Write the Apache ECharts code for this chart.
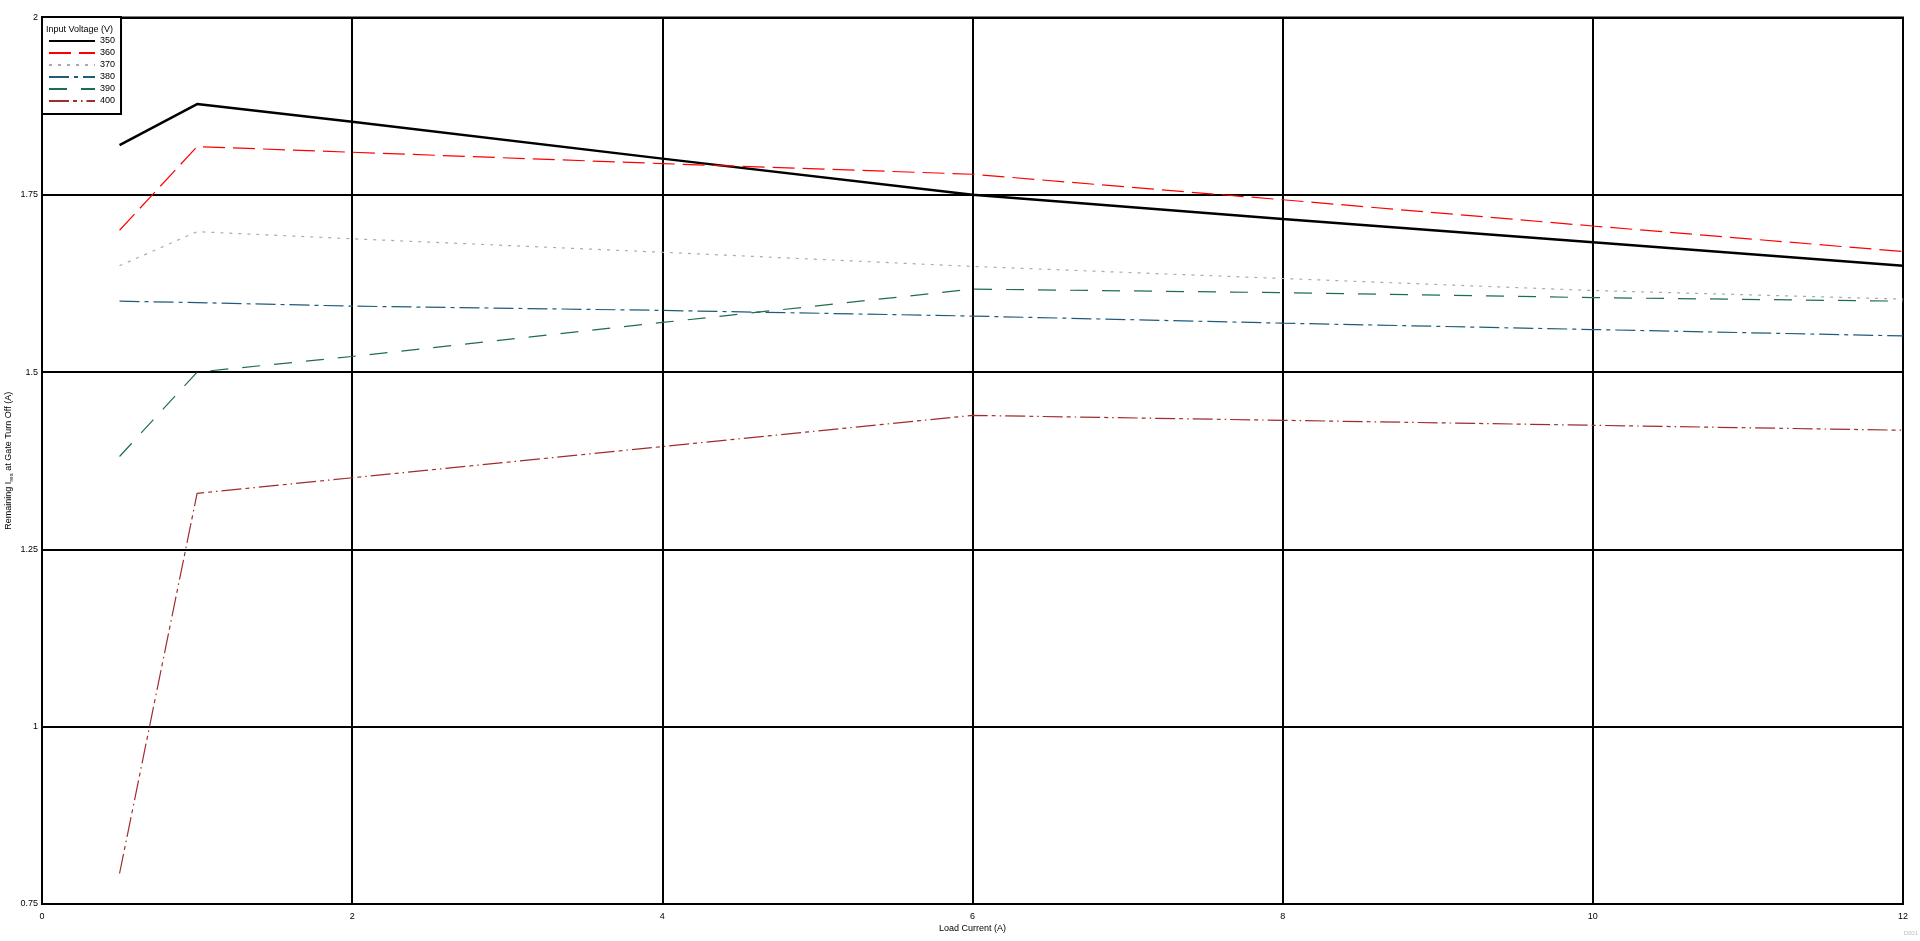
<!DOCTYPE html>
<html>
<head>
<meta charset="utf-8">
<script src="https://cdn.jsdelivr.net/npm/echarts@6/dist/echarts.min.js"></script>
<style>html,body{margin:0;padding:0;background:#fff;}#c{width:1920px;height:941px;}</style>
</head>
<body>
<div id="c"></div>
<script>
const loadCurrent = [0.5, 1, 2, 4, 6, 8, 10, 12];
const v350 = [1.82, 1.878, 1.853, 1.801, 1.75, 1.716, 1.683, 1.65];
const v360 = [1.70, 1.818, 1.810, 1.794, 1.779, 1.743, 1.706, 1.670];
const v370 = [1.65, 1.698, 1.688, 1.669, 1.649, 1.632, 1.615, 1.603];
const v380 = [1.60, 1.598, 1.593, 1.587, 1.579, 1.569, 1.560, 1.551];
const v390 = [1.381, 1.50, 1.522, 1.570, 1.617, 1.612, 1.605, 1.600];
const v400 = [0.793, 1.329, 1.351, 1.395, 1.439, 1.432, 1.425, 1.418];
const seriesNames = ['350', '360', '370', '380', '390', '400'];
const xTicks = [0, 2, 4, 6, 8, 10, 12];
const yTicks = [0.75, 1, 1.25, 1.5, 1.75, 2];

const allValues = [v350, v360, v370, v380, v390, v400];
const styles = [
  {color: '#000000', width: 2.5, type: 'solid'},
  {color: '#ff0000', width: 1.2, type: [22, 8]},
  {color: '#aaaaaa', width: 1.2, type: [3, 6]},
  {color: '#1f5c7a', width: 1.2, type: [20, 5, 4, 5]},
  {color: '#1e6e4c', width: 1.2, type: [18, 14]},
  {color: '#a02c2c', width: 1.2, type: [20, 4, 4, 4, 1.5, 4]}
];

const series = seriesNames.map((n, i) => ({
  name: n,
  type: 'line',
  symbol: 'none',
  showSymbol: false,
  smooth: false,
  animation: false,
  itemStyle: {color: styles[i].color, opacity: 0},
  lineStyle: {color: styles[i].color, width: styles[i].width, type: styles[i].type, opacity: 1},
  data: loadCurrent.map((x, j) => [x, allValues[i][j]])
}));

const font = 'Liberation Sans, Arial, sans-serif';
const chart = echarts.init(document.getElementById('c'));
chart.setOption({
  animation: false,
  backgroundColor: '#ffffff',
  grid: {left: 42, right: 17, top: 17.5, bottom: 37, show: true, borderColor: '#000', borderWidth: 2,
    containLabel: false, outerBoundsMode: 'none'},
  title: {
    text: 'Input Voltage (V)', left: 46, top: 25,
    textStyle: {fontSize: 9, fontWeight: 'normal', color: '#000', fontFamily: font}, padding: 0, z: 20
  },
  legend: {
    data: seriesNames,
    orient: 'vertical', left: 42, top: 17,
    padding: [19, 6, 8, 6],
    itemWidth: 46, itemHeight: 10, itemGap: 2,
    borderColor: '#000', borderWidth: 2, backgroundColor: '#fff',
    itemStyle: {opacity: 0, borderWidth: 0},
    textStyle: {fontSize: 9, color: '#000', fontFamily: font, lineHeight: 10},
    z: 10
  },
  xAxis: {
    type: 'value', min: 0, max: 12, interval: 2,
    name: 'Load Current (A)', nameLocation: 'middle', nameGap: 20, nameMoveOverlap: false,
    nameTextStyle: {fontSize: 9, color: '#000', fontFamily: font},
    axisLine: {show: true, lineStyle: {color: '#000', width: 2}},
    axisTick: {show: false},
    axisLabel: {fontSize: 9, color: '#000', fontFamily: font, margin: 8,
      formatter: v => xTicks.includes(v) ? String(v) : ''},
    splitLine: {show: true, lineStyle: {color: '#000', width: 2}}
  },
  yAxis: {
    type: 'value', min: 0.75, max: 2, interval: 0.25,
    name: 'Remaining I{sub|res} at Gate Turn Off (A)', nameLocation: 'middle', nameGap: 28, nameMoveOverlap: false,
    nameTextStyle: {fontSize: 9, color: '#000', fontFamily: font,
      rich: {sub: {fontSize: 6, verticalAlign: 'bottom', color: '#000', fontFamily: font, padding: [4, 0, 0, 0]}}},
    axisLine: {show: true, lineStyle: {color: '#000', width: 2}},
    axisTick: {show: false},
    axisLabel: {fontSize: 9, color: '#000', fontFamily: font, margin: 4,
      formatter: v => yTicks.includes(v) ? String(v) : ''},
    splitLine: {show: true, lineStyle: {color: '#000', width: 2}}
  },
  graphic: [{
    type: 'text', right: 2, top: 930,
    style: {text: 'D001', fontSize: 6, fill: '#bbbbbb', fontFamily: font}
  }],
  series: series
});
</script>
</body>
</html>
